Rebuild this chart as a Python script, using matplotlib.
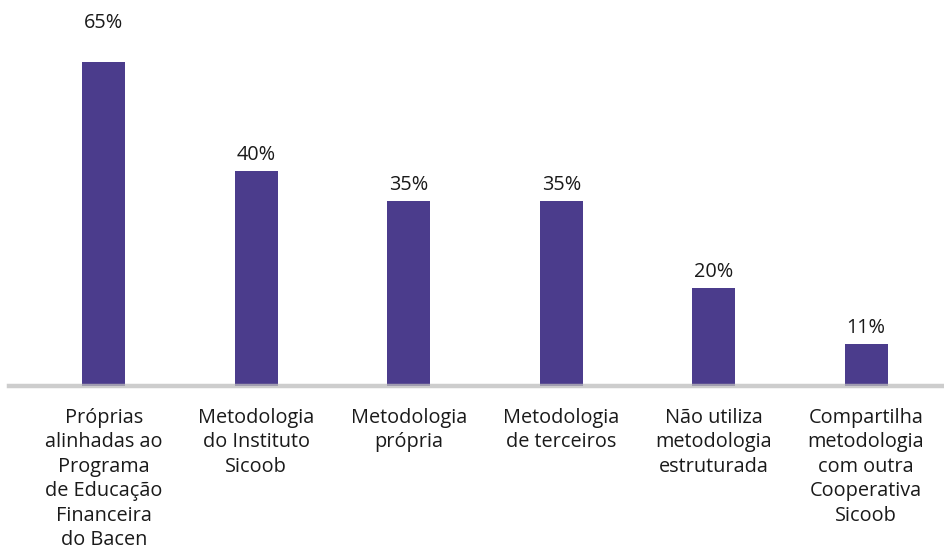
import matplotlib
matplotlib.use("Agg")
import matplotlib.pyplot as plt

categories = [
    "Próprias\nalinhadas ao\nPrograma\nde Educação\nFinanceira\ndo Bacen",
    "Metodologia\ndo Instituto\nSicoob",
    "Metodologia\nprópria",
    "Metodologia\nde terceiros",
    "Não utiliza\nmetodologia\nestruturada",
    "Compartilha\nmetodologia\ncom outra\nCooperativa\nSicoob",
]
# bar heights as drawn in the picture (percent)
bar_heights = [65, 43.2, 37, 37, 19.7, 8.4]
# value labels as printed
value_labels = ["65%", "40%", "35%", "35%", "20%", "11%"]

BAR_COLOR = "#4B3C8C"
TEXT_COLOR = "#1a1a1a"
FONT = ["Open Sans", "DejaVu Sans"]

fig = plt.figure(figsize=(9.45, 5.59), dpi=100)
ax = fig.add_axes([9 / 945, 1 - 386 / 559, 936 / 945, 386 / 559])

x = list(range(len(categories)))
bars = ax.bar(x, bar_heights, width=0.282, color=BAR_COLOR, zorder=2)

ax.set_xlim(-0.623, 5.518)
ax.set_ylim(0, 77.4)

ax.axhline(0, color="#BDBDBD", linewidth=3.2, alpha=0.75, zorder=3, clip_on=False)

for i, (b, lab) in enumerate(zip(bars, value_labels)):
    off = 39 if i == 0 else 16
    ax.annotate(lab, (b.get_x() + b.get_width() / 2, b.get_height()),
                xytext=(0, off), textcoords="offset pixels",
                ha="center", va="center", fontsize=14.3,
                color=TEXT_COLOR, family=FONT)

ax.set_xticks(x)
ax.set_xticklabels(categories, fontsize=14.3, color=TEXT_COLOR,
                   family=FONT, linespacing=1.3, va="top")
ax.tick_params(axis="x", length=0, pad=15.5)
ax.set_yticks([])
for s in ax.spines.values():
    s.set_visible(False)

fig.savefig("out.png", dpi=100)
